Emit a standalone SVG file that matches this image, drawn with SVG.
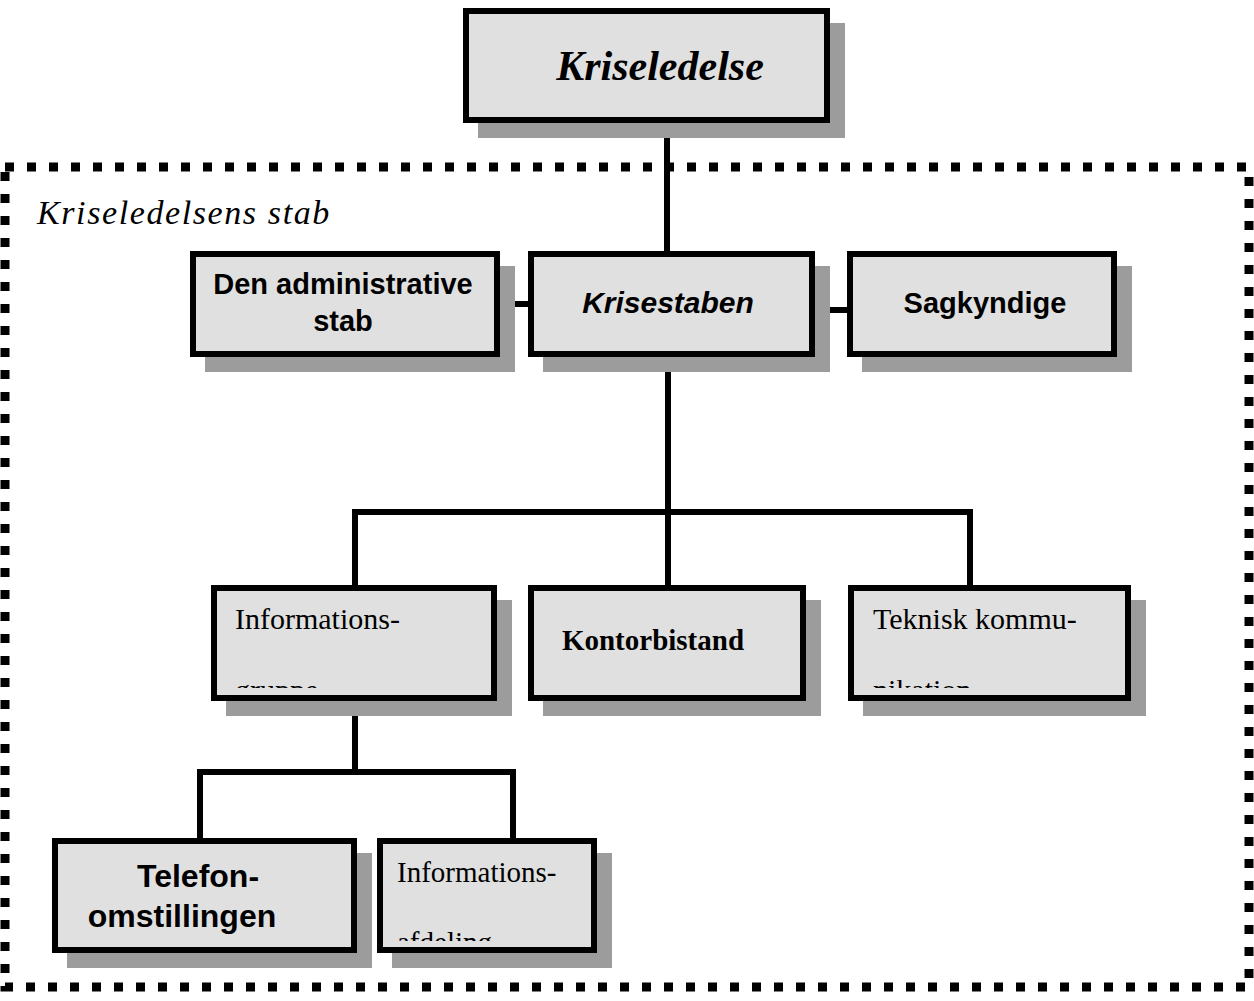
<svg xmlns="http://www.w3.org/2000/svg" width="1254" height="1001" viewBox="0 0 1254 1001">
<style>
.shadow{fill:#9c9c9c}
.box{fill:#e0e0e0;stroke:#000;stroke-width:6}
.conn{stroke:#000;stroke-width:6;fill:none}
.serif{font-family:"Liberation Serif","Times New Roman",serif;fill:#000}
.sans{font-family:"Liberation Sans",Arial,sans-serif;fill:#000;font-weight:bold}
.mid{text-anchor:middle}
</style>
<defs>
<clipPath id="c-infogr"><rect x="214" y="588" width="280" height="100"/></clipPath>
<clipPath id="c-tek"><rect x="851" y="588" width="277" height="100"/></clipPath>
<clipPath id="c-infoaf"><rect x="380" y="841" width="214" height="100"/></clipPath>
</defs>
<rect x="0" y="0" width="1254" height="1001" fill="#fff"/>
<g id="staff-frame">
<rect x="5" y="167" width="1244" height="820" fill="none" stroke="#000" stroke-width="9" stroke-dasharray="9 13"/>
<text class="serif" x="37" y="224" font-size="34" font-style="italic" letter-spacing="1.6">Kriseledelsens stab</text>
</g>
<g id="connectors">
<line class="conn" x1="667" y1="123" x2="667" y2="251"/>
<line class="conn" x1="500" y1="304" x2="528" y2="304"/>
<line class="conn" x1="815" y1="310" x2="847" y2="310"/>
<line class="conn" x1="668" y1="357" x2="668" y2="512"/>
<polyline class="conn" points="355,585 355,512 970,512 970,585"/>
<line class="conn" x1="668" y1="512" x2="668" y2="585"/>
<line class="conn" x1="355" y1="701" x2="355" y2="772"/>
<polyline class="conn" points="200,838 200,772 513,772 513,838"/>
</g>
<g id="kriseledelse">
<rect class="shadow" x="478" y="23" width="367" height="115"/>
<rect class="box" x="466" y="11" width="361" height="109"/>
<text class="serif mid" x="660" y="80" font-size="42" font-weight="bold" font-style="italic">Kriseledelse</text>
</g>
<g id="den-administrative-stab">
<rect class="shadow" x="205" y="266" width="310" height="106"/>
<rect class="box" x="193" y="254" width="304" height="100"/>
<text class="sans mid" x="343" y="294" font-size="29">Den administrative</text>
<text class="sans mid" x="343" y="331" font-size="29">stab</text>
</g>
<g id="krisestaben">
<rect class="shadow" x="543" y="266" width="287" height="106"/>
<rect class="box" x="531" y="254" width="281" height="100"/>
<text class="sans mid" x="668" y="313" font-size="30" font-style="italic">Krisestaben</text>
</g>
<g id="sagkyndige">
<rect class="shadow" x="862" y="266" width="270" height="106"/>
<rect class="box" x="850" y="254" width="264" height="100"/>
<text class="sans mid" x="985" y="313" font-size="29">Sagkyndige</text>
</g>
<g id="informationsgruppe">
<rect class="shadow" x="226" y="600" width="286" height="116"/>
<rect class="box" x="214" y="588" width="280" height="110"/>
<text class="serif" x="235" y="629" font-size="30">Informations-</text>
<text class="serif" x="235" y="700" font-size="30" clip-path="url(#c-infogr)">gruppe</text>
</g>
<g id="kontorbistand">
<rect class="shadow" x="543" y="600" width="278" height="116"/>
<rect class="box" x="531" y="588" width="272" height="110"/>
<text class="serif mid" x="653" y="650" font-size="29" font-weight="bold">Kontorbistand</text>
</g>
<g id="teknisk-kommunikation">
<rect class="shadow" x="863" y="600" width="283" height="116"/>
<rect class="box" x="851" y="588" width="277" height="110"/>
<text class="serif" x="873" y="629" font-size="30">Teknisk kommu-</text>
<text class="serif" x="873" y="700" font-size="30" clip-path="url(#c-tek)">nikation</text>
</g>
<g id="telefonomstillingen">
<rect class="shadow" x="67" y="853" width="305" height="115"/>
<rect class="box" x="55" y="841" width="299" height="109"/>
<text class="sans mid" x="198" y="887" font-size="32">Telefon-</text>
<text class="sans mid" x="182" y="927" font-size="32">omstillingen</text>
</g>
<g id="informationsafdeling">
<rect class="shadow" x="392" y="853" width="220" height="115"/>
<rect class="box" x="380" y="841" width="214" height="109"/>
<text class="serif" x="397" y="882" font-size="29">Informations-</text>
<text class="serif" x="397" y="952" font-size="29" clip-path="url(#c-infoaf)">afdeling</text>
</g>
</svg>
